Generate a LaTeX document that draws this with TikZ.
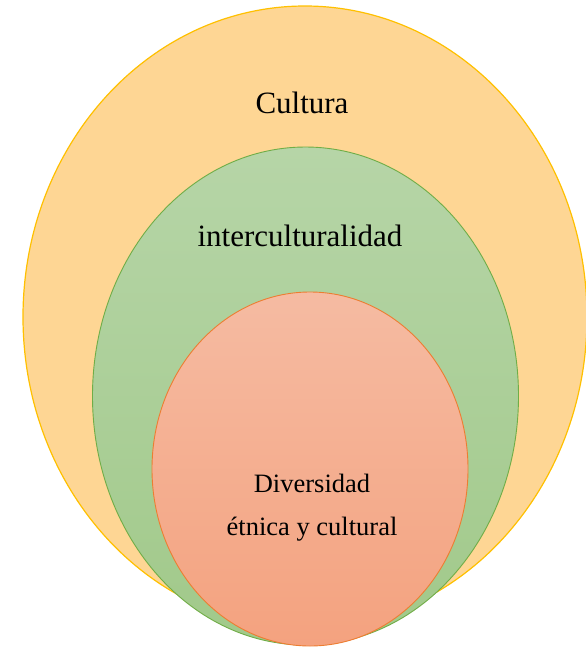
\documentclass[tikz,border=0pt]{standalone}
\usepackage{fontspec}
\setmainfont{Liberation Serif}
\usepackage{tikz}
\usetikzlibrary{positioning}

\definecolor{culturaline}{HTML}{FFC000}
\definecolor{culturafill}{HTML}{FED694}
\definecolor{interline}{HTML}{70AD47}
\definecolor{intertop}{HTML}{B6D5A7}
\definecolor{interbot}{HTML}{A1C98A}
\definecolor{diverline}{HTML}{ED7D31}
\definecolor{divertop}{HTML}{F5BBA2}
\definecolor{diverbot}{HTML}{F4A27F}

\tikzset{
  label text/.style={font=\fontsize{31}{36}\selectfont, text=black},
  small text/.style={font=\fontsize{26.5}{43}\selectfont, text=black, align=center}
}

\begin{document}
\begin{tikzpicture}[x=1pt,y=-1pt]
     \useasboundingbox (0,0) rectangle (586,649);
     \draw[line width=1.2pt, culturaline, fill=culturafill] (305,317) ellipse [x radius=282, y radius=311];
     \draw[line width=0.9pt, interline, top color=intertop, bottom color=interbot] (305.5,396) ellipse [x radius=213, y radius=249];
     \draw[line width=0.9pt, diverline, top color=divertop, bottom color=diverbot] (310,469) ellipse [x radius=158, y radius=177];
     \node[label text] (cultura) at (302,103) {Cultura};
     \node[label text] (inter) at (300,236) {interculturalidad};
     \node[small text] (diversidad) at (312,508) {Diversidad\\étnica y cultural};
\end{tikzpicture}
\end{document}
